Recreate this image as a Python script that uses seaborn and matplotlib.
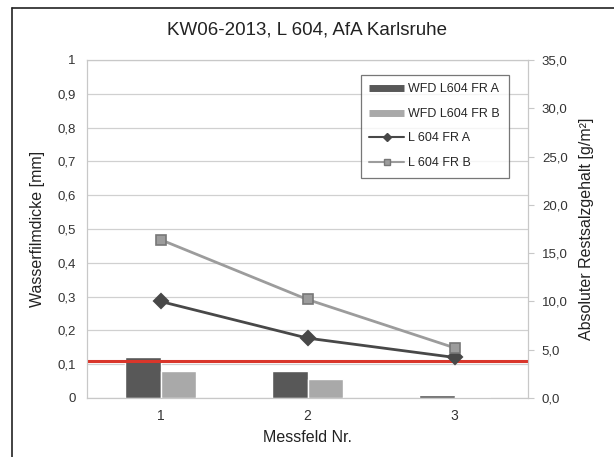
import matplotlib
matplotlib.use('Agg')
import matplotlib.pyplot as plt
from matplotlib.lines import Line2D
import matplotlib.colors as mcolors
import seaborn as sns
import pandas as pd

# Daten
messfeld = ['1', '2', '3']
wfd_a = [0.12, 0.08, 0.008]        # Wasserfilmdicke [mm]
wfd_b = [0.08, 0.055, 0.002]
salz_a = [10.0, 6.2, 4.2]          # Restsalzgehalt [g/m²]
salz_b = [16.4, 10.2, 5.2]
grenze = 0.11                      # rote Linie (linke Achse)

sns.set_style('white')
plt.rcParams['font.family'] = ['Liberation Sans', 'DejaVu Sans']

bars = pd.DataFrame({
    'Messfeld': messfeld * 2,
    'Wert': wfd_a + wfd_b,
    'Reihe': ['WFD L604 FR A'] * 3 + ['WFD L604 FR B'] * 3,
})
lines = pd.DataFrame({
    'Messfeld': messfeld * 2,
    'Wert': salz_a + salz_b,
    'Reihe': ['L 604 FR A'] * 3 + ['L 604 FR B'] * 3,
})

fig = plt.figure(figsize=(6.14, 4.57), dpi=100)
ax = fig.add_axes([87 / 614, 1 - 398 / 457, 441 / 614, 338 / 457])

dark = '#585858'
light = '#a9a9a9'
col_a = '#484848'
col_b = '#9c9c9c'
sns.barplot(data=bars, x='Messfeld', y='Wert', hue='Reihe', palette=[dark, light],
            width=0.48, ax=ax, legend=False, saturation=1)
ax.set_ylim(0, 1)
ax.set_xlim(-0.5, 2.5)
ax.set_yticks([i / 10 for i in range(11)])
ax.set_yticklabels(['0'] + ['0,%d' % i for i in range(1, 10)] + ['1'], fontsize=9.5, color='#333333')
ax.yaxis.grid(True, color='#d0d0d0', lw=0.9)
ax.set_axisbelow(True)
ax.tick_params(axis='both', length=0, pad=8)
ax.tick_params(axis='x', labelsize=10, colors='#333333')
ax.set_xlabel('Messfeld Nr.', fontsize=11.5, color='#222222', labelpad=5)
ax.set_ylabel('Wasserfilmdicke [mm]', fontsize=11.5, color='#222222', labelpad=9)
for s in ax.spines.values():
    s.set_color('#c8c8c8')
ax.axhline(grenze, color='#d9362b', lw=2.2, zorder=5)

ax2 = ax.twinx()
sns.pointplot(data=lines, x='Messfeld', y='Wert', hue='Reihe', palette=[col_a, col_b],
              markers=['D', 's'], linestyles=['-', '-'], ax=ax2, legend=False,
              markersize=7.5, linewidth=2)
for ln in ax2.lines:
    if mcolors.to_hex(ln.get_color()) == col_b:
        ln.set_markeredgecolor('#777777')
        ln.set_markeredgewidth(1.2)
ax2.set_ylim(0, 35)
ax2.set_xlim(-0.5, 2.5)
ax2.set_yticks(range(0, 36, 5))
ax2.set_yticklabels(['%d,0' % v for v in range(0, 36, 5)], fontsize=9.5, color='#333333')
ax2.tick_params(axis='y', length=4, color='#c8c8c8', pad=6)
ax2.set_ylabel('Absoluter Restsalzgehalt [g/m²]', fontsize=11.5, color='#222222', labelpad=8)
for s in ax2.spines.values():
    s.set_color('#c8c8c8')

handles = [
    Line2D([], [], color=dark, lw=5, solid_capstyle='butt'),
    Line2D([], [], color=light, lw=5, solid_capstyle='butt'),
    Line2D([], [], color=col_a, lw=1.5, marker='D', markersize=4),
    Line2D([], [], color=col_b, lw=1.5, marker='s', markersize=5, markeredgecolor='#777777'),
]
leg = ax2.legend(handles, ['WFD L604 FR A', 'WFD L604 FR B', 'L 604 FR A', 'L 604 FR B'],
                 loc='upper right', bbox_to_anchor=(0.97, 0.975), fontsize=9, frameon=True,
                 fancybox=False, edgecolor='#555555', handlelength=2.8, labelspacing=1.0,
                 borderpad=0.7, handletextpad=0.3)
leg.get_frame().set_linewidth(0.9)

fig.text(0.5, 1 - 30 / 457, 'KW06-2013, L 604, AfA Karlsruhe', ha='center', va='center',
         fontsize=13.5, color='#222222')

# Rahmen
fig.add_artist(Line2D([12 / 614, 12 / 614], [0, 1 - 8 / 457], color='#222222', lw=1.2,
                      transform=fig.transFigure))
fig.add_artist(Line2D([12 / 614, 1], [1 - 8 / 457, 1 - 8 / 457], color='#222222', lw=1.2,
                      transform=fig.transFigure))

fig.savefig('out.png', dpi=100)
